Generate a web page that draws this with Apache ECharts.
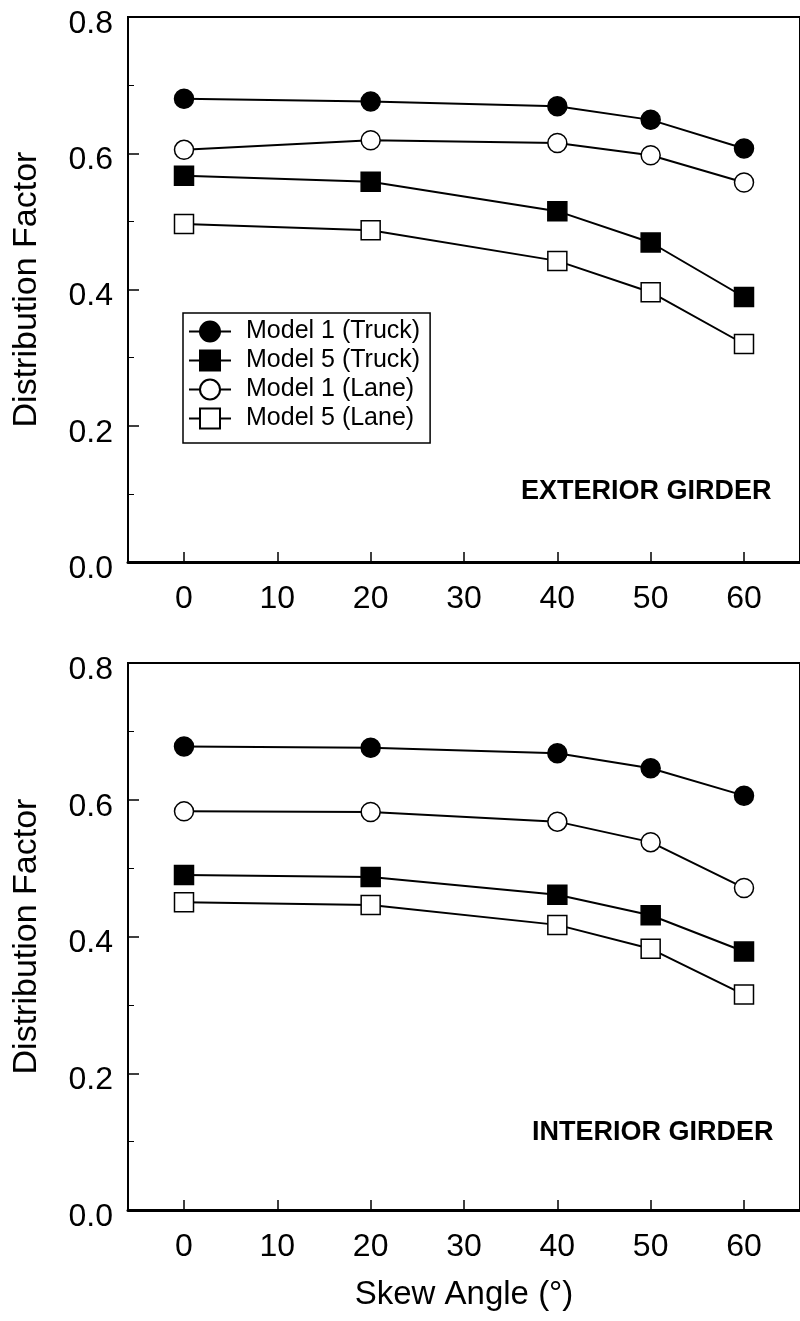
<!DOCTYPE html>
<html>
<head>
<meta charset="utf-8">
<script src="https://cdn.jsdelivr.net/npm/echarts@6/dist/echarts.min.js"></script>
<style>
  html, body { margin: 0; padding: 0; background: #fff; }
  #main { width: 800px; height: 1321px; }
</style>
</head>
<body>
<div id="main"></div>
<script>
// skew angle (deg) and tick labels
var skewAngles = [0, 20, 40, 50, 60];
var xTicks = [0, 10, 20, 30, 40, 50, 60];

// exterior girder
var extM1Truck = [0.680, 0.676, 0.669, 0.649, 0.607];
var extM5Truck = [0.567, 0.558, 0.515, 0.469, 0.389];
var extM1Lane = [0.605, 0.619, 0.615, 0.597, 0.557];
var extM5Lane = [0.496, 0.487, 0.442, 0.396, 0.320];

// interior girder
var intM1Truck = [0.678, 0.676, 0.668, 0.646, 0.606];
var intM5Truck = [0.490, 0.487, 0.461, 0.431, 0.378];
var intM1Lane = [0.583, 0.582, 0.568, 0.538, 0.471];
var intM5Lane = [0.450, 0.446, 0.417, 0.382, 0.315];

var seriesNames = ['Model 1 (Truck)', 'Model 5 (Truck)', 'Model 1 (Lane)', 'Model 5 (Lane)'];

var FONT = "'Liberation Sans', Arial, sans-serif";

var chart = echarts.init(document.getElementById('main'), null, { renderer: 'canvas' });

function pairs(vals) {
  return skewAngles.map(function (x, i) { return [x, vals[i]]; });
}

function makeSeries(name, vals, idx, symbol, filled) {
  return {
    name: name,
    type: 'line',
    xAxisIndex: idx,
    yAxisIndex: idx,
    data: pairs(vals),
    symbol: symbol,
    symbolSize: 19,
    showSymbol: true,
    animation: false,
    lineStyle: { color: '#000', width: 2 },
    itemStyle: {
      color: filled ? '#000' : '#fff',
      borderColor: '#000',
      borderWidth: 1.5
    },
    emphasis: { disabled: true }
  };
}

function xAxisCfg(idx, withName) {
  return {
    type: 'value',
    gridIndex: idx,
    min: -6,
    max: 66,
    name: withName ? 'Skew Angle (°)' : '',
    nameLocation: 'middle',
    nameGap: 68,
    nameTextStyle: { fontFamily: FONT, fontSize: 33, color: '#000' },
    axisLine: { show: true, onZero: false, lineStyle: { color: '#000', width: 3 } },
    axisTick: { show: true, inside: true, length: 10, customValues: xTicks, lineStyle: { color: '#000', width: 1.5 } },
    axisLabel: { customValues: xTicks, margin: 21, fontFamily: FONT, fontSize: 32, color: '#000' },
    splitLine: { show: false }
  };
}

function yAxisCfg(idx) {
  return {
    type: 'value',
    gridIndex: idx,
    min: 0,
    max: 0.8,
    interval: 0.2,
    name: 'Distribution Factor',
    nameLocation: 'middle',
    nameGap: 84,
    nameTextStyle: { fontFamily: FONT, fontSize: 34, color: '#000' },
    axisLine: { show: true, onZero: false, lineStyle: { color: '#000', width: 2 } },
    axisTick: { show: true, inside: true, length: 11, lineStyle: { color: '#000', width: 1.5 } },
    minorTick: { show: true, splitNumber: 2, length: 6, lineStyle: { color: '#000', width: 1 } },
    axisLabel: {
      margin: 15,
      color: '#000',
      formatter: function (v) { return '{a|' + v.toFixed(1) + '}'; },
      rich: {
        a: { fontFamily: FONT, fontSize: 32, color: '#000', padding: [14, 0, 0, 0] }
      }
    },
    splitLine: { show: false }
  };
}

var option = {
  backgroundColor: '#fff',
  animation: false,
  grid: [
    { left: 128, right: -6, top: 17, height: 545, show: true, borderColor: '#000', borderWidth: 2 },
    { left: 128, right: -6, top: 663, height: 547, show: true, borderColor: '#000', borderWidth: 2 }
  ],
  xAxis: [xAxisCfg(0, false), xAxisCfg(1, true)],
  yAxis: [yAxisCfg(0), yAxisCfg(1)],
  legend: {
    data: seriesNames,
    orient: 'vertical',
    left: 183,
    top: 313,
    itemWidth: 42,
    itemHeight: 25,
    itemGap: 4,
    padding: [6, 10, 12, 5],
    borderColor: '#000',
    borderWidth: 1.5,
    backgroundColor: '#fff',
    selectedMode: false,
    textStyle: { fontFamily: FONT, fontSize: 25, color: '#000', padding: [0, 0, 0, 10] }
  },
  graphic: [
    {
      type: 'text',
      left: 521,
      top: 478,
      style: { text: 'EXTERIOR GIRDER', font: "bold 27px 'Liberation Sans', Arial, sans-serif", fill: '#000' }
    },
    {
      type: 'text',
      left: 532,
      top: 1119,
      style: { text: 'INTERIOR GIRDER', font: "bold 27px 'Liberation Sans', Arial, sans-serif", fill: '#000' }
    }
  ],
  series: [
    makeSeries(seriesNames[0], extM1Truck, 0, 'circle', true),
    makeSeries(seriesNames[1], extM5Truck, 0, 'rect', true),
    makeSeries(seriesNames[2], extM1Lane, 0, 'circle', false),
    makeSeries(seriesNames[3], extM5Lane, 0, 'rect', false),
    makeSeries(seriesNames[0], intM1Truck, 1, 'circle', true),
    makeSeries(seriesNames[1], intM5Truck, 1, 'rect', true),
    makeSeries(seriesNames[2], intM1Lane, 1, 'circle', false),
    makeSeries(seriesNames[3], intM5Lane, 1, 'rect', false)
  ]
};

chart.setOption(option);
</script>
</body>
</html>
